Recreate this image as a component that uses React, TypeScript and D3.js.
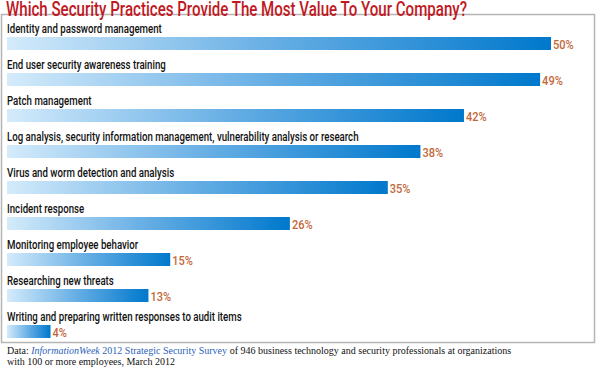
import React, { useEffect, useRef } from "react";
import * as d3 from "d3";

const categories = [
  "Identity and password management",
  "End user security awareness training",
  "Patch management",
  "Log analysis, security information management, vulnerability analysis or research",
  "Virus and worm detection and analysis",
  "Incident response",
  "Monitoring employee behavior",
  "Researching new threats",
  "Writing and preparing written responses to audit items",
];
const values = [50, 49, 42, 38, 35, 26, 15, 13, 4];

const W = 596;
const H = 367;
const sans = "Roboto, 'DejaVu Sans', sans-serif";
const serif = "'Liberation Serif', 'DejaVu Serif', serif";

const App = () => {
  const ref = useRef(null);

  useEffect(() => {
    if (!ref.current) return;
    const svg = d3.select(ref.current);
    svg.selectAll("*").remove();

    const x = d3.scaleLinear().domain([0, 50]).range([7, 551]);
    const y = d3.scaleBand<number>().domain(d3.range(categories.length)).range([14, 14 + 36 * 9]);

    const defs = svg.append("defs");
    const grad = defs.append("linearGradient").attr("id", "barGrad").attr("x1", 0).attr("x2", 1).attr("y1", 0).attr("y2", 0);
    grad.append("stop").attr("offset", "0%").attr("stop-color", "#d4ebfb");
    grad.append("stop").attr("offset", "50%").attr("stop-color", "#64ade4");
    grad.append("stop").attr("offset", "100%").attr("stop-color", "#0078cc");

    svg.append("rect")
      .attr("x", 1.5).attr("y", 14.5).attr("width", 593).attr("height", 328)
      .attr("fill", "white").attr("stroke", "#b5b5b5").attr("stroke-width", 1.5);

    svg.append("text")
      .attr("x", 6).attr("y", 15.5)
      .attr("font-family", sans)
      .attr("font-weight", 500)
      .attr("font-size", 20)
      .attr("fill", "#c0191f")
      .attr("textLength", 461)
      .attr("lengthAdjust", "spacingAndGlyphs")
      .text("Which Security Practices Provide The Most Value To Your Company?");

    const row = svg.selectAll("g.row").data(values).enter().append("g").attr("class", "row")
      .attr("transform", (_d, i) => `translate(0,${y(i)})`);

    const labels = row.append("text")
      .attr("font-family", sans)
      .attr("font-weight", 500)
      .attr("font-size", 13.5)
      .attr("fill", "#111")
      .text((_d, i) => categories[i]);

    // condensed look: squeeze horizontally
    const first = labels.node() as SVGTextElement;
    const k = first ? 155 / first.getComputedTextLength() : 0.8;
    labels.attr("transform", `translate(7,19) scale(${k},1)`);

    row.append("rect")
      .attr("x", x(0)).attr("y", 23)
      .attr("width", (d) => x(d) - x(0)).attr("height", 13)
      .attr("fill", "url(#barGrad)");

    row.append("text")
      .attr("transform", (d) => `translate(${x(d) + 2},34.5) scale(0.85,1)`)
      .attr("font-family", sans)
      .attr("font-weight", 500)
      .attr("font-size", 13)
      .attr("fill", "#c2683a")
      .text((d) => `${d}%`);

    // footnote, pieces laid out one after another
    const pieces = [
      { t: "Data:", fill: "#111", style: "normal" },
      { t: "InformationWeek", fill: "#2d5fb8", style: "italic" },
      { t: "2012 Strategic Security Survey", fill: "#2d5fb8", style: "normal" },
      { t: "of 946 business technology and security professionals at organizations", fill: "#111", style: "normal" },
    ];
    let fx = 7;
    pieces.forEach((p) => {
      const t = svg.append("text")
        .attr("x", fx).attr("y", 354)
        .attr("font-family", serif)
        .attr("font-size", 10)
        .attr("font-style", p.style)
        .attr("fill", p.fill)
        .text(p.t);
      fx += (t.node() as SVGTextElement).getComputedTextLength() + 2.6;
    });
    svg.append("text")
      .attr("x", 7).attr("y", 364.5)
      .attr("font-family", serif)
      .attr("font-size", 10)
      .attr("fill", "#111")
      .text("with 100 or more employees, March 2012");
  }, []);

  return (
    <svg ref={ref} width={W} height={H} style={{ position: "absolute", left: 0, top: 0, background: "white" }} />
  );
};

export default App;
